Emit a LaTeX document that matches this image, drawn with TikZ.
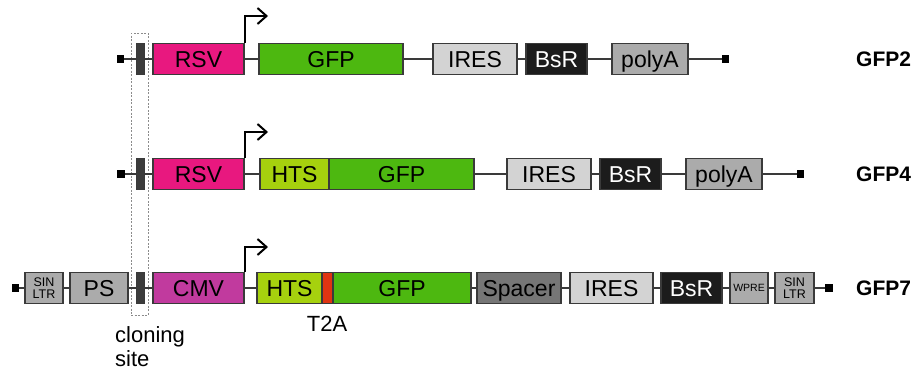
\documentclass[tikz,border=0pt]{standalone}
\usepackage{fontspec}
\setmainfont{Liberation Sans}
\usetikzlibrary{arrows.meta}
\definecolor{cRSV}{HTML}{E8187F}
\definecolor{cCMV}{HTML}{C13A9E}
\definecolor{cGFP}{HTML}{4DB810}
\definecolor{cHTS}{HTML}{A6D10E}
\definecolor{cT2A}{HTML}{E03412}
\definecolor{cIRES}{HTML}{D3D3D3}
\definecolor{cBsR}{HTML}{1C1C1C}
\definecolor{cGray}{HTML}{ABABAB}
\definecolor{cSpacer}{HTML}{767676}
\definecolor{cBar}{HTML}{3C3C3C}
\definecolor{cEdge}{HTML}{3A3A3A}
\definecolor{cDash}{HTML}{8C8C8C}
\tikzset{
  el/.style={draw=cEdge, line width=1.4pt, minimum height=31pt, inner sep=0pt,
    font=\fontsize{23}{26}\selectfont, text=black},
  capc/.style={text height=16.5pt, text depth=0pt},
  sq/.style={fill=black, minimum size=7.5pt, inner sep=0pt},
  csbar/.style={fill=cBar, draw=cEdge, line width=1pt, minimum width=8pt,
    minimum height=31pt, inner sep=0pt},
  wire/.style={draw=cEdge, line width=1.4pt},
  prom/.style={draw=black, line width=2pt, -{Straight Barb[length=9pt,width=16pt]}},
  vname/.style={font=\bfseries\fontsize{21}{24}\selectfont, anchor=west, inner sep=0pt},
  small/.style={font=\fontsize{12.5}{12.5}\selectfont, align=center},
  lbl/.style={font=\fontsize{22}{24}\selectfont, inner sep=0pt},
}
\begin{document}
\begin{tikzpicture}[x=1pt,y=-1pt]
\useasboundingbox (0,0) rectangle (914,372);
% cloning site dashed frame
\node[draw=cDash, line width=0.8pt, dash pattern=on 2pt off 1.5pt,
  minimum width=17pt, minimum height=282pt, inner sep=0pt] (clonebox) at (139.5,174) {};

% ---------- Row 1: GFP2 ----------
\node[sq] (sqL1) at (120.5,59) {};
\node[csbar] (bar1) at (140,59) {};
\node[el, capc, fill=cRSV, minimum width=91pt] (rsv1) at (198.5,59) {RSV};
\node[el, capc, fill=cGFP, minimum width=144pt] (gfp1) at (331,59) {GFP};
\node[el, capc, fill=cIRES, minimum width=84pt] (ires1) at (475,59) {IRES};
\node[el, capc, fill=cBsR, text=white, minimum width=61pt] (bsr1) at (556.5,59) {BsR};
\node[el, capc, fill=cGray, minimum width=76pt] (pa1) at (650,59) {polyA};
\node[sq] (sqR1) at (725.5,59) {};
\node[vname] (n1) at (856,59) {GFP2};
\coordinate (tip1) at (268,16);
\draw[wire] (sqL1) -- (bar1);
\draw[wire] (bar1) -- (rsv1);
\draw[wire] (rsv1) -- (gfp1);
\draw[wire] (gfp1) -- (ires1);
\draw[wire] (ires1) -- (bsr1);
\draw[wire] (bsr1) -- (pa1);
\draw[wire] (pa1) -- (sqR1);
\draw[prom] (rsv1.north east) |- (tip1);

% ---------- Row 2: GFP4 ----------
\node[sq] (sqL2) at (121,174) {};
\node[csbar] (bar2) at (140,174) {};
\node[el, capc, fill=cRSV, minimum width=91pt] (rsv2) at (198.5,174) {RSV};
\node[el, capc, fill=cHTS, minimum width=69pt] (hts2) at (294.5,174) {HTS};
\node[el, capc, fill=cGFP, minimum width=145pt] (gfp2) at (401.5,174) {GFP};
\node[el, capc, fill=cIRES, minimum width=84pt] (ires2) at (549,174) {IRES};
\node[el, capc, fill=cBsR, text=white, minimum width=61pt] (bsr2) at (630.5,174) {BsR};
\node[el, capc, fill=cGray, minimum width=76pt] (pa2) at (724,174) {polyA};
\node[sq] (sqR2) at (800.5,174) {};
\node[vname] (n2) at (856,174) {GFP4};
\coordinate (tip2) at (268,132);
\draw[wire] (sqL2) -- (bar2);
\draw[wire] (bar2) -- (rsv2);
\draw[wire] (rsv2) -- (hts2);
\draw[wire] (gfp2) -- (ires2);
\draw[wire] (ires2) -- (bsr2);
\draw[wire] (bsr2) -- (pa2);
\draw[wire] (pa2) -- (sqR2);
\draw[prom] (rsv2.north east) |- (tip2);

% ---------- Row 3: GFP7 ----------
\node[sq] (sqL3) at (15.5,288) {};
\node[el, fill=cGray, minimum width=38pt, small] (sin1) at (44,288) {SIN\\LTR};
\node[el, capc, fill=cGray, minimum width=58pt] (ps) at (99,288) {PS};
\node[csbar] (bar3) at (140,288) {};
\node[el, capc, fill=cCMV, minimum width=91pt] (cmv) at (198.5,288) {CMV};
\node[el, capc, fill=cHTS, minimum width=65pt] (hts3) at (289.5,288) {HTS};
\node[el, fill=cT2A, minimum width=11pt] (t2a) at (327.5,288) {};
\node[el, capc, fill=cGFP, minimum width=138pt] (gfp3) at (402,288) {GFP};
\node[el, capc, fill=cSpacer, minimum width=84pt] (spacer) at (519,288) {Spacer};
\node[el, capc, fill=cIRES, minimum width=83pt] (ires3) at (611.5,288) {IRES};
\node[el, capc, fill=cBsR, text=white, minimum width=61pt] (bsr3) at (691.5,288) {BsR};
\node[el, fill=cGray, minimum width=38pt, font=\fontsize{10.5}{11}\selectfont,
  text height=7.5pt, text depth=0pt] (wpre) at (749,288) {WPRE};
\node[el, fill=cGray, minimum width=39pt, small] (sin2) at (794.5,288) {SIN\\LTR};
\node[sq] (sqR3) at (829,288) {};
\node[vname] (n3) at (856,288) {GFP7};
\coordinate (tip3) at (268,247);
\draw[wire] (sqL3) -- (sin1);
\draw[wire] (sin1) -- (ps);
\draw[wire] (ps) -- (bar3);
\draw[wire] (bar3) -- (cmv);
\draw[wire] (cmv) -- (hts3);
\draw[wire] (gfp3) -- (spacer);
\draw[wire] (spacer) -- (ires3);
\draw[wire] (ires3) -- (bsr3);
\draw[wire] (bsr3) -- (wpre);
\draw[wire] (wpre) -- (sin2);
\draw[wire] (sin2) -- (sqR3);
\draw[prom] (cmv.north east) |- (tip3);

% ---------- labels ----------
\node[lbl, anchor=base] (t2alabel) at (327,331) {T2A};
\node[lbl, anchor=base west, align=left] (cloninglabel) at (115,366) {cloning\\site};
\end{tikzpicture}
\end{document}
